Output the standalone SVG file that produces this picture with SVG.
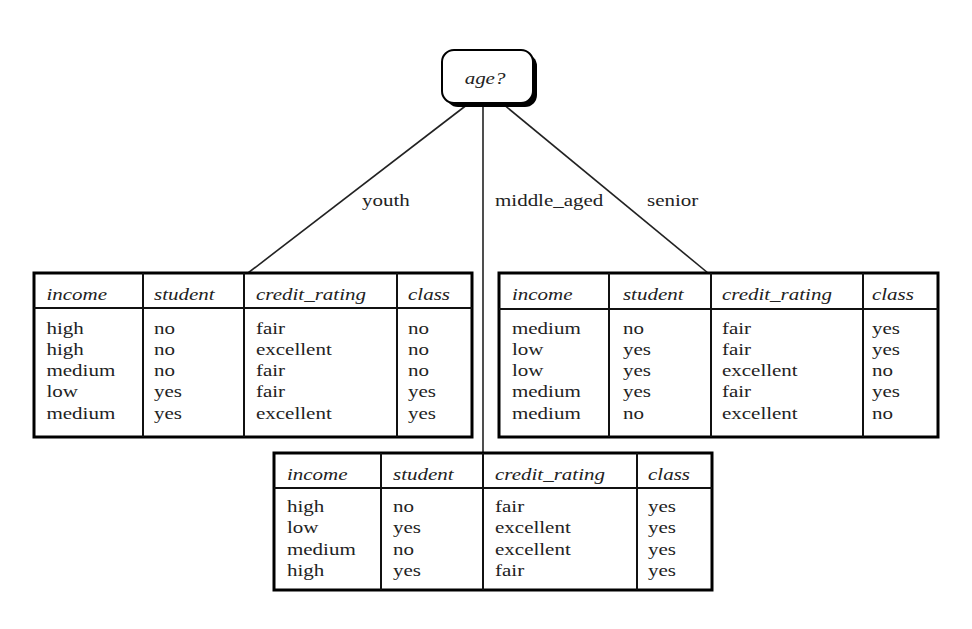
<svg xmlns="http://www.w3.org/2000/svg" width="972" height="629" viewBox="0 0 972 629">
<style>
text { font-family: "Liberation Serif", "Times New Roman", serif; font-size: 17.5px; fill: #222; }
.h { font-style: italic; }
.outer { fill: #fff; stroke: #000; stroke-width: 3; }
.in { stroke: #111; stroke-width: 2; fill: none; }
.conn { stroke: #222; stroke-width: 1.6; fill: none; }
</style>
<rect width="972" height="629" fill="#fff"/>
<g id="connectors">
  <line class="conn" x1="468" y1="104" x2="248" y2="273"/>
  <line class="conn" x1="483" y1="104" x2="483" y2="453"/>
  <line class="conn" x1="503" y1="104" x2="708" y2="273"/>
  <g transform="scale(1.2,1)">
    <text x="301.7" y="206">youth</text>
    <text x="412.5" y="206">middle_aged</text>
    <text x="539.2" y="206">senior</text>
  </g>
</g>
<g id="age">
  <rect x="446" y="54" width="91" height="53" rx="12" fill="#000"/>
  <rect x="442" y="50" width="91" height="53" rx="12" fill="#fff" stroke="#000" stroke-width="2"/>
  <g transform="scale(1.2,1)"><text class="h" x="404.2" y="84" text-anchor="middle" fill="#444">age?</text></g>
</g>
<g id="youth-table">
  <rect class="outer" x="34" y="273" width="438" height="164"/>
  <line class="in" x1="34" y1="308" x2="472" y2="308"/>
  <line class="in" x1="143" y1="273" x2="143" y2="437"/>
  <line class="in" x1="244" y1="273" x2="244" y2="437"/>
  <line class="in" x1="397" y1="273" x2="397" y2="437"/>
  <g transform="translate(34,0) scale(1.2,1)">
    <text class="h" x="10.4" y="300">income</text><text class="h" x="100" y="300">student</text><text class="h" x="185" y="300">credit_rating</text><text class="h" x="311.7" y="300">class</text>
    <text x="10.4" y="334">high</text><text x="100" y="334">no</text><text x="185" y="334">fair</text><text x="311.7" y="334">no</text>
    <text x="10.4" y="355">high</text><text x="100" y="355">no</text><text x="185" y="355">excellent</text><text x="311.7" y="355">no</text>
    <text x="10.4" y="376">medium</text><text x="100" y="376">no</text><text x="185" y="376">fair</text><text x="311.7" y="376">no</text>
    <text x="10.4" y="397.5">low</text><text x="100" y="397.5">yes</text><text x="185" y="397.5">fair</text><text x="311.7" y="397.5">yes</text>
    <text x="10.4" y="419">medium</text><text x="100" y="419">yes</text><text x="185" y="419">excellent</text><text x="311.7" y="419">yes</text>
  </g>
</g>
<g id="senior-table">
  <rect class="outer" x="499" y="273" width="439" height="164"/>
  <line class="in" x1="499" y1="309" x2="938" y2="309"/>
  <line class="in" x1="609" y1="273" x2="609" y2="437"/>
  <line class="in" x1="711" y1="273" x2="711" y2="437"/>
  <line class="in" x1="863" y1="273" x2="863" y2="437"/>
  <g transform="translate(499,0) scale(1.2,1)">
    <text class="h" x="10.8" y="300">income</text><text class="h" x="103.3" y="300">student</text><text class="h" x="185.8" y="300">credit_rating</text><text class="h" x="310.8" y="300">class</text>
    <text x="10.8" y="334">medium</text><text x="103.3" y="334">no</text><text x="185.8" y="334">fair</text><text x="310.8" y="334">yes</text>
    <text x="10.8" y="355">low</text><text x="103.3" y="355">yes</text><text x="185.8" y="355">fair</text><text x="310.8" y="355">yes</text>
    <text x="10.8" y="376">low</text><text x="103.3" y="376">yes</text><text x="185.8" y="376">excellent</text><text x="310.8" y="376">no</text>
    <text x="10.8" y="397.5">medium</text><text x="103.3" y="397.5">yes</text><text x="185.8" y="397.5">fair</text><text x="310.8" y="397.5">yes</text>
    <text x="10.8" y="419">medium</text><text x="103.3" y="419">no</text><text x="185.8" y="419">excellent</text><text x="310.8" y="419">no</text>
  </g>
</g>
<g id="middle-aged-table">
  <rect class="outer" x="274" y="453" width="438" height="137"/>
  <line class="in" x1="274" y1="488" x2="712" y2="488"/>
  <line class="in" x1="381" y1="453" x2="381" y2="590"/>
  <line class="in" x1="483" y1="453" x2="483" y2="590"/>
  <line class="in" x1="637" y1="453" x2="637" y2="590"/>
  <g transform="translate(274,0) scale(1.2,1)">
    <text class="h" x="10.8" y="480">income</text><text class="h" x="99.2" y="480">student</text><text class="h" x="184.2" y="480">credit_rating</text><text class="h" x="311.7" y="480">class</text>
    <text x="10.8" y="512">high</text><text x="99.2" y="512">no</text><text x="184.2" y="512">fair</text><text x="311.7" y="512">yes</text>
    <text x="10.8" y="533.5">low</text><text x="99.2" y="533.5">yes</text><text x="184.2" y="533.5">excellent</text><text x="311.7" y="533.5">yes</text>
    <text x="10.8" y="555">medium</text><text x="99.2" y="555">no</text><text x="184.2" y="555">excellent</text><text x="311.7" y="555">yes</text>
    <text x="10.8" y="576">high</text><text x="99.2" y="576">yes</text><text x="184.2" y="576">fair</text><text x="311.7" y="576">yes</text>
  </g>
</g>
</svg>
